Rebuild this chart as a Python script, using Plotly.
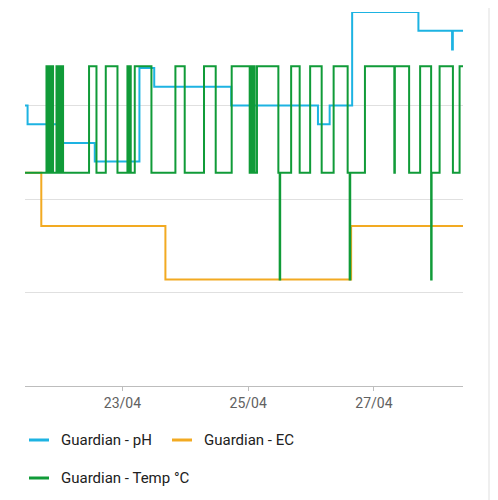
import plotly.graph_objects as go

ph_times = [
    "2023-04-21 10:00", "2023-04-21 11:47", "2023-04-21 23:07", "2023-04-22 13:26",
    "2023-04-23 06:29", "2023-04-23 12:08", "2023-04-24 17:31", "2023-04-26 02:38",
    "2023-04-26 07:06", "2023-04-26 15:41", "2023-04-27 16:59", "2023-04-28 05:50",
    "2023-04-28 06:07", "2023-04-28 10:30",
]
ph_values = [30, 28, 26, 24, 34, 32, 30, 28, 30, 40, 38, 36, 38, 38]

ec_times = ["2023-04-21 10:00", "2023-04-21 17:01", "2023-04-23 16:24",
            "2023-04-26 15:18", "2023-04-28 10:30"]
ec_values = [22.8, 17.1, 11.4, 17.1, 17.1]

temp_times = [
    "2023-04-21 10:00", "2023-04-21 19:00", "2023-04-21 19:30", "2023-04-21 19:53",
    "2023-04-21 20:27", "2023-04-21 20:50", "2023-04-21 21:31", "2023-04-21 22:49",
    "2023-04-21 23:19", "2023-04-21 23:42", "2023-04-22 00:16", "2023-04-22 00:39",
    "2023-04-22 01:20", "2023-04-22 11:15", "2023-04-22 14:05", "2023-04-22 17:38",
    "2023-04-22 22:06", "2023-04-23 01:54", "2023-04-23 02:24", "2023-04-23 02:47",
    "2023-04-23 03:10", "2023-04-23 04:42", "2023-04-23 11:04", "2023-04-23 20:13",
    "2023-04-23 23:46", "2023-04-24 07:08", "2023-04-24 11:36", "2023-04-24 17:42",
    "2023-04-25 00:34", "2023-04-25 00:50", "2023-04-25 01:09", "2023-04-25 01:50",
    "2023-04-25 02:29", "2023-04-25 03:21", "2023-04-25 11:31", "2023-04-25 12:01",
    "2023-04-25 12:13", "2023-04-25 16:24", "2023-04-25 19:39", "2023-04-25 23:39",
    "2023-04-26 04:03", "2023-04-26 08:37", "2023-04-26 13:58", "2023-04-26 14:44",
    "2023-04-26 14:57", "2023-04-26 20:34", "2023-04-27 07:47", "2023-04-27 07:59",
    "2023-04-27 13:26", "2023-04-27 17:38", "2023-04-27 21:50", "2023-04-27 22:01",
    "2023-04-28 01:04", "2023-04-28 06:09", "2023-04-28 08:42", "2023-04-28 10:30",
]
temp_values = [
    22.8, 34.2, 22.8, 34.2, 22.8, 34.2, 22.8, 34.2,
    22.8, 34.2, 22.8, 34.2, 22.8, 34.2, 22.8, 34.2,
    22.8, 34.2, 22.8, 34.2, 22.8, 34.2, 22.8, 34.2,
    22.8, 34.2, 22.8, 34.2, 22.8, 34.2, 22.8, 34.2,
    22.8, 34.2, 22.8, 11.4, 22.8, 34.2, 22.8, 34.2,
    22.8, 34.2, 22.8, 11.4, 22.8, 34.2, 22.8, 34.2,
    22.8, 34.2, 11.4, 22.8, 34.2, 22.8, 34.2, 34.2,
]

tick_dates = ["2023-04-23", "2023-04-25", "2023-04-27"]
tick_labels = ["23/04", "25/04", "27/04"]

series = [
    ("Guardian - pH", ph_times, ph_values, "#1db3e2"),
    ("Guardian - EC", ec_times, ec_values, "#f2aa22"),
    ("Guardian - Temp °C", temp_times, temp_values, "#109b38"),
]

# the page body has an 8px margin, so the figure is 8px smaller and starts at (8, 8)
OFF = 8
W, H = 498 - OFF, 500 - OFF
L, R, T, B = 25 - OFF, 35, 12 - OFF, 114
pw, ph = W - L - R, H - T - B


def px(x):
    # page pixel -> paper x
    return (x - OFF - L) / pw


def py(y):
    # page pixel -> paper y
    return (H - B - (y - OFF)) / ph


fig = go.Figure()
# draw EC first, then pH, temperature on top
for idx in (1, 0, 2):
    name, t, v, c = series[idx]
    fig.add_trace(go.Scatter(x=t, y=v, name=name, mode="lines", line_shape="hv",
                             line=dict(color=c, width=2), showlegend=False))

# legend drawn by hand: two rows like the card
legend_pos = [(29, 440), (172, 440), (29, 478)]
for (name, _, _, c), (lx, ly) in zip(series, legend_pos):
    fig.add_shape(type="line", xref="paper", yref="paper",
                  x0=px(lx), x1=px(lx + 20), y0=py(ly), y1=py(ly),
                  line=dict(color=c, width=3))
    fig.add_annotation(text=name, xref="paper", yref="paper", x=px(lx + 30), y=py(ly),
                       xanchor="left", yanchor="middle", showarrow=False,
                       font=dict(size=15, color="#212121"))

# card edges
fig.add_shape(type="rect", xref="paper", yref="paper", x0=px(488), x1=px(500),
              y0=py(502), y1=py(0), fillcolor="#efefef", line_width=0, layer="below")

fig.update_layout(
    width=W, height=H,
    margin=dict(l=L, r=R, t=T, b=B),
    paper_bgcolor="white", plot_bgcolor="white",
    font=dict(family="Roboto", color="#212121"),
    hovermode=False,
)
fig.update_xaxes(
    type="date", range=["2023-04-21 10:48", "2023-04-28 10:00"],
    tickvals=tick_dates, ticktext=tick_labels,
    showgrid=False, showline=True, linecolor="#bdbdbd", linewidth=1,
    ticks="outside", ticklen=4, tickcolor="#bdbdbd",
    tickfont=dict(size=14, color="#616161"),
)
fig.update_yaxes(
    range=[0, 40], dtick=10, showticklabels=False,
    gridcolor="#e0e0e0", gridwidth=1, zeroline=False,
)

fig.write_html("out.html")
